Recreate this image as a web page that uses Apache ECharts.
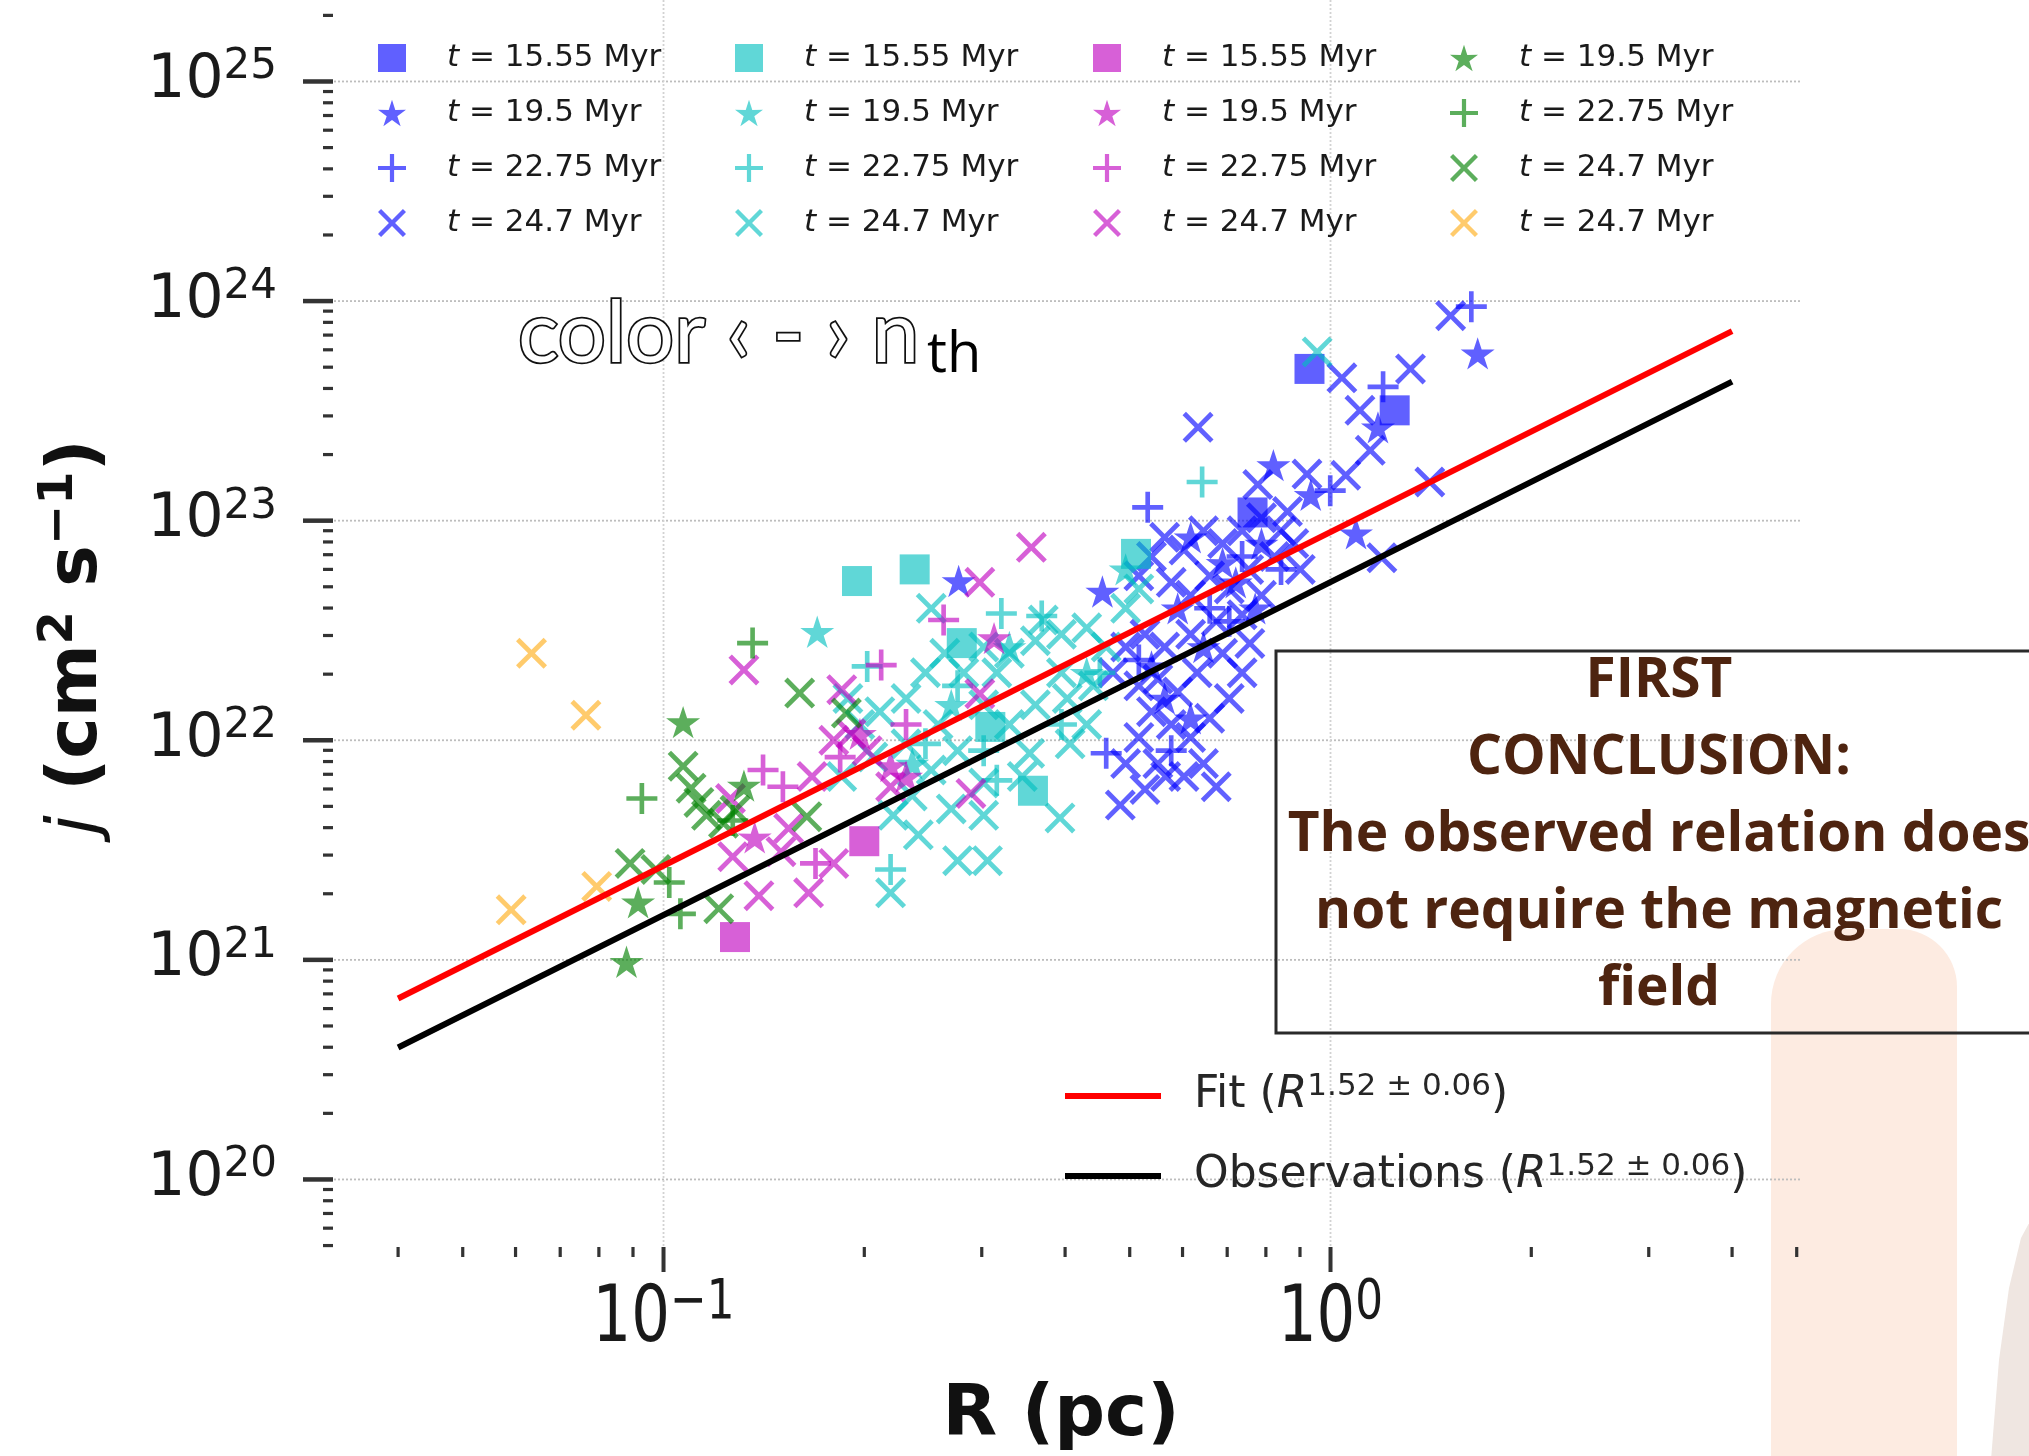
<!DOCTYPE html>
<html>
<head>
<meta charset="utf-8">
<script src="https://cdn.jsdelivr.net/npm/echarts@6/dist/echarts.min.js"></script>
<style>
  html, body { margin: 0; padding: 0; background: #ffffff; }
  #chart { width: 2029px; height: 1456px; }
</style>
</head>
<body>
<div id="chart"></div>
<script>
// ---- Axis ranges (R in pc, j in cm^2 s^-1), both logarithmic ----
const X_MIN = 0.03206, X_MAX = 5.057;
const Y_MIN = 4.977e19, Y_MAX = 2.35e25;

// ---- Tick positions and labels ----
const xMajorTicks = [0.1, 1];
const xTickExponents = ['\u22121', '0'];
const xMinorTicks = [0.04, 0.05, 0.06, 0.07, 0.08, 0.09,
                     0.2, 0.3, 0.4, 0.5, 0.6, 0.7, 0.8, 0.9,
                     2, 3, 4, 5];
const yMajorTicks = [1e20, 1e21, 1e22, 1e23, 1e24, 1e25];
const yTickExponents = ['20', '21', '22', '23', '24', '25'];
const yMinorTicks = [5e19, 6e19, 7e19, 8e19, 9e19,
  2e20, 3e20, 4e20, 5e20, 6e20, 7e20, 8e20, 9e20,
  2e21, 3e21, 4e21, 5e21, 6e21, 7e21, 8e21, 9e21,
  2e22, 3e22, 4e22, 5e22, 6e22, 7e22, 8e22, 9e22,
  2e23, 3e23, 4e23, 5e23, 6e23, 7e23, 8e23, 9e23,
  2e24, 3e24, 4e24, 5e24, 6e24, 7e24, 8e24, 9e24,
  2e25];

// ---- Snapshot times shown in the legend (Myr) ----
const times = ['15.55', '19.5', '22.75', '24.7'];

// ---- Clump data: [R (pc), j (cm^2 s^-1)] per density threshold colour and snapshot ----
const blueSquare = [[0.930, 4.91e23], [1.248, 3.18e23], [0.764, 1.09e23]];
const blueStar = [[1.662, 5.78e23], [0.821, 1.79e23], [1.092, 8.76e22], [1.178, 2.66e23], [0.934, 1.31e23],
  [0.455, 4.76e22], [0.277, 5.31e22], [0.617, 8.40e22], [0.689, 6.42e22], [0.590, 3.99e22],
  [0.645, 2.66e22], [0.564, 1.55e22], [0.617, 1.26e22], [0.539, 2.17e22], [0.788, 7.87e22],
  [0.721, 5.24e22], [0.771, 3.99e22]];
const bluePlus = [[1.626, 9.43e23], [1.199, 4.07e23], [0.532, 1.15e23], [0.461, 8.73e21], [0.999, 1.37e23],
  [0.737, 6.87e22], [0.659, 3.99e22], [0.577, 8.97e21], [0.516, 2.32e22], [0.705, 3.48e22], [0.843, 6.00e22]];
const blueCross = [[1.514, 8.58e23], [1.318, 4.91e23], [1.040, 4.47e23], [1.107, 3.18e23], [1.147, 2.09e23],
  [1.054, 1.61e23], [1.409, 1.50e23], [1.194, 6.78e22], [0.922, 1.63e23], [0.778, 1.46e23], [0.633, 2.66e23],
  [0.564, 8.40e22], [0.603, 7.35e22], [0.645, 8.99e22], [0.689, 7.87e22], [0.737, 8.99e22], [0.788, 1.03e23],
  [0.843, 8.99e22], [0.881, 7.87e22], [0.824, 6.87e22], [0.754, 6.00e22], [0.705, 4.89e22], [0.659, 5.61e22],
  [0.617, 4.57e22], [0.577, 5.24e22], [0.539, 6.87e22], [0.516, 5.61e22], [0.862, 1.10e23], [0.901, 6.00e22],
  [0.788, 4.57e22], [0.737, 3.73e22], [0.674, 3.48e22], [0.617, 3.04e22], [0.564, 2.66e22], [0.527, 3.04e22],
  [0.493, 2.66e22], [0.472, 2.03e22], [0.516, 1.77e22], [0.551, 1.90e22], [0.590, 1.66e22], [0.631, 2.03e22],
  [0.539, 1.35e22], [0.577, 1.18e22], [0.617, 1.03e22], [0.659, 1.26e22], [0.705, 1.55e22], [0.516, 1.03e22],
  [0.493, 7.83e21], [0.551, 7.83e21], [0.603, 6.84e21], [0.645, 7.83e21], [0.674, 6.14e21], [0.484, 5.07e21],
  [0.566, 6.84e21], [0.527, 5.97e21], [0.737, 2.03e22], [0.757, 2.76e22], [0.689, 2.49e22]];

const cyanSquare = [[0.195, 5.31e22], [0.238, 6.00e22], [0.280, 2.77e22], [0.358, 5.89e21], [0.511, 7.06e22], [0.309, 1.15e22]];
const cyanStar = [[0.170, 3.12e22], [0.270, 1.45e22], [0.330, 2.66e22], [0.431, 2.03e22], [0.493, 6.00e22], [0.236, 7.83e21]];
const cyanPlus = [[0.321, 3.78e22], [0.642, 1.50e23], [0.219, 2.58e21], [0.202, 2.17e22], [0.316, 6.57e21],
  [0.369, 3.68e22], [0.276, 1.77e22], [0.395, 1.18e22], [0.302, 8.97e21], [0.451, 2.03e22], [0.247, 9.63e21]];
const cyanCross = [[0.955, 5.87e23], [0.219, 2.02e21], [0.276, 2.83e21], [0.306, 2.83e21], [0.393, 4.43e21],
  [0.354, 8.73e21], [0.407, 9.63e21], [0.371, 3.53e22], [0.231, 1.55e22], [0.247, 2.03e22], [0.264, 2.49e22],
  [0.282, 2.03e22], [0.302, 2.66e22], [0.330, 2.49e22], [0.361, 2.84e22], [0.395, 3.04e22], [0.431, 3.25e22],
  [0.461, 2.66e22], [0.493, 3.99e22], [0.441, 1.77e22], [0.403, 1.55e22], [0.361, 1.45e22], [0.330, 1.18e22],
  [0.302, 1.45e22], [0.276, 8.97e21], [0.252, 7.32e21], [0.236, 5.58e21], [0.221, 4.55e21], [0.241, 3.71e21],
  [0.270, 4.87e21], [0.302, 6.39e21], [0.345, 6.84e21], [0.231, 9.63e21], [0.206, 8.38e21], [0.197, 1.18e22],
  [0.211, 1.35e22], [0.189, 1.55e22], [0.302, 4.55e21], [0.431, 1.18e22], [0.516, 4.89e22], [0.252, 3.99e22],
  [0.185, 6.84e21], [0.316, 2.03e22], [0.395, 2.03e22], [0.258, 1.18e22]];

const magentaSquare = [[0.200, 3.47e21], [0.128, 1.27e21]];
const magentaStar = [[0.313, 2.92e22], [0.219, 7.63e21], [0.137, 3.61e21], [0.197, 1.07e22], [0.231, 6.84e21]];
const magentaPlus = [[0.263, 3.53e22], [0.212, 2.20e22], [0.141, 7.32e21], [0.151, 6.14e21], [0.184, 8.38e21],
  [0.231, 1.18e22], [0.169, 2.75e21]];
const magentaCross = [[0.132, 2.09e22], [0.185, 1.70e22], [0.298, 5.24e22], [0.356, 7.56e22], [0.180, 1.00e22],
  [0.127, 2.95e21], [0.139, 1.96e21], [0.165, 2.02e21], [0.180, 2.75e21], [0.150, 3.11e21], [0.289, 5.73e21],
  [0.298, 1.63e22], [0.126, 5.43e21], [0.167, 6.84e21], [0.191, 1.07e22], [0.219, 6.14e21], [0.202, 8.97e21],
  [0.154, 3.97e21]];

const greenStar = [[0.107, 1.21e22], [0.132, 6.22e21], [0.0916, 1.83e21], [0.0880, 9.8e20]];
const greenPlus = [[0.136, 2.77e22], [0.0928, 5.43e21], [0.102, 2.25e21], [0.106, 1.62e21], [0.127, 4.31e21]];
const greenCross = [[0.107, 7.62e21], [0.110, 6.05e21], [0.113, 5.21e21], [0.116, 4.55e21], [0.123, 4.19e21],
  [0.160, 1.64e22], [0.188, 1.33e22], [0.0891, 2.75e21], [0.0974, 2.58e21], [0.121, 1.71e21], [0.164, 4.49e21],
  [0.128, 4.80e21]];
const orangeCross = [[0.0634, 2.49e22], [0.0765, 1.30e22], [0.0794, 2.16e21], [0.0591, 1.69e21]];

// ---- Power-law lines: end points [R, j] ----
const fitLine = [[0.04, 6.67e20], [4, 7.30e23]];
const obsLine = [[0.04, 3.99e20], [4, 4.30e23]];

// ---- Marker shapes ----
const SYM_SQUARE = 'rect';
const SYM_STAR = 'path://M50,0L61.17,34.63L97.55,34.55L68.07,55.87L79.39,90.45L50,69L20.61,90.45L31.93,55.87L2.45,34.55L38.83,34.63Z';
const SYM_PLUS = 'path://M42.5,0H57.5V42.5H100V57.5H57.5V100H42.5V57.5H0V42.5H42.5Z';
const SYM_CROSS = 'path://M0,11L11,0L50,39L89,0L100,11L61,50L100,89L89,100L50,61L11,100L0,89L39,50Z';

const COL_BLUE = 'rgba(0,0,255,0.78)';
const COL_CYAN = 'rgba(0,191,191,0.78)';
const COL_MAGENTA = 'rgba(191,0,191,0.78)';
const COL_GREEN = 'rgba(0,128,0,0.8)';
const COL_ORANGE = 'rgba(255,165,0,0.72)';

const FONT = 'DejaVu Sans';

function scatter(name, data, symbol, size, color) {
  return {
    type: 'scatter', name: name, data: data,
    symbol: symbol, symbolSize: size, symbolKeepAspect: symbol === SYM_STAR,
    itemStyle: { color: color },
    emphasis: { disabled: true },
    silent: true, z: 2
  };
}

// series name -> snapshot time for the legend text
const legendTime = {};
const scatterSeries = [];
function addGroup(prefix, color, groups) {
  groups.forEach(function (g) {
    const name = prefix + '_' + g[0];
    legendTime[name] = g[1];
    scatterSeries.push(scatter(name, g[2], g[3], g[4], color));
  });
}
addGroup('blue', COL_BLUE, [
  ['sq', times[0], blueSquare, SYM_SQUARE, 30],
  ['star', times[1], blueStar, SYM_STAR, 34],
  ['plus', times[2], bluePlus, SYM_PLUS, 31],
  ['x', times[3], blueCross, SYM_CROSS, 31]]);
addGroup('cyan', COL_CYAN, [
  ['sq', times[0], cyanSquare, SYM_SQUARE, 30],
  ['star', times[1], cyanStar, SYM_STAR, 34],
  ['plus', times[2], cyanPlus, SYM_PLUS, 31],
  ['x', times[3], cyanCross, SYM_CROSS, 31]]);
addGroup('magenta', COL_MAGENTA, [
  ['sq', times[0], magentaSquare, SYM_SQUARE, 30],
  ['star', times[1], magentaStar, SYM_STAR, 34],
  ['plus', times[2], magentaPlus, SYM_PLUS, 31],
  ['x', times[3], magentaCross, SYM_CROSS, 31]]);
addGroup('green', COL_GREEN, [
  ['star', times[1], greenStar, SYM_STAR, 34],
  ['plus', times[2], greenPlus, SYM_PLUS, 31],
  ['x', times[3], greenCross, SYM_CROSS, 31]]);
addGroup('orange', COL_ORANGE, [
  ['x', times[3], orangeCross, SYM_CROSS, 31]]);

// ---- Grid lines and ticks drawn through the axes' own scales ----
const gridItems = [];
yMajorTicks.forEach(function (v) { gridItems.push([X_MIN, v, 0]); });
xMajorTicks.forEach(function (v) { gridItems.push([v, Y_MIN, 1]); });

const tickItems = [];
yMajorTicks.forEach(function (v, i) { tickItems.push([X_MIN, v, 0, i]); });
yMinorTicks.forEach(function (v) { tickItems.push([X_MIN, v, 1, 0]); });
xMajorTicks.forEach(function (v, i) { tickItems.push([v, Y_MIN, 2, i]); });
xMinorTicks.forEach(function (v) { tickItems.push([v, Y_MIN, 3, 0]); });

function renderGrid(params, api) {
  const kind = api.value(2);
  let a, b;
  if (kind === 0) {
    a = api.coord([X_MIN, api.value(1)]);
    b = api.coord([X_MAX, api.value(1)]);
  } else {
    a = api.coord([api.value(0), Y_MIN]);
    b = api.coord([api.value(0), Y_MAX]);
  }
  return {
    type: 'line',
    shape: { x1: a[0], y1: a[1], x2: b[0], y2: b[1] },
    style: { stroke: kind === 0 ? '#bdbdbd' : '#d2d2d2', lineWidth: 1.8, lineDash: [2, 2] }
  };
}

function renderTicks(params, api) {
  const kind = api.value(2);
  const idx = api.value(3);
  const p = api.coord([api.value(0), api.value(1)]);
  const stroke = '#333333';
  if (kind === 0) {
    return {
      type: 'group', children: [
        { type: 'line', shape: { x1: p[0] - 31, y1: p[1], x2: p[0] - 1, y2: p[1] }, style: { stroke: stroke, lineWidth: 4.5 } },
        {
          type: 'text', x: p[0] - 57, y: p[1],
          style: {
            text: '{b|10}{s|' + yTickExponents[idx] + '}',
            align: 'right', verticalAlign: 'middle', fill: '#1a1a1a',
            rich: {
              b: { fontFamily: FONT, fontSize: 60, lineHeight: 70 },
              s: { fontFamily: FONT, fontSize: 42, lineHeight: 32, verticalAlign: 'top' }
            }
          }
        }
      ]
    };
  }
  if (kind === 1) {
    return { type: 'line', shape: { x1: p[0] - 11, y1: p[1], x2: p[0] - 1, y2: p[1] }, style: { stroke: stroke, lineWidth: 3.2 } };
  }
  if (kind === 2) {
    return {
      type: 'group', children: [
        { type: 'line', shape: { x1: p[0], y1: p[1] + 1, x2: p[0], y2: p[1] + 26 }, style: { stroke: stroke, lineWidth: 4 } },
        {
          type: 'text', x: p[0], y: p[1] + 75, scaleX: 0.78,
          style: {
            text: '{b|10}{s|' + xTickExponents[idx] + '}',
            align: 'center', verticalAlign: 'middle', fill: '#1a1a1a',
            rich: {
              b: { fontFamily: FONT, fontSize: 78, lineHeight: 92 },
              s: { fontFamily: FONT, fontSize: 56, lineHeight: 50, verticalAlign: 'top' }
            }
          }
        }
      ]
    };
  }
  return { type: 'line', shape: { x1: p[0], y1: p[1] + 1, x2: p[0], y2: p[1] + 11 }, style: { stroke: stroke, lineWidth: 3.2 } };
}

// ---- Legends: four columns of snapshots, plus the two power laws ----
const legendColumns = [
  ['blue_sq', 'blue_star', 'blue_plus', 'blue_x'],
  ['cyan_sq', 'cyan_star', 'cyan_plus', 'cyan_x'],
  ['magenta_sq', 'magenta_star', 'magenta_plus', 'magenta_x'],
  ['green_star', 'green_plus', 'green_x', 'orange_x']
];
const legendLeft = [378, 735, 1093, 1450];

const snapshotLegends = legendColumns.map(function (names, k) {
  return {
    data: names, orient: 'vertical', left: legendLeft[k], top: 41, padding: 0,
    itemWidth: 28, itemHeight: 28, itemGap: 21, selectedMode: false,
    formatter: function (n) { return '{g| }{i|t} = ' + legendTime[n] + ' Myr'; },
    textStyle: {
      fontFamily: FONT, fontSize: 31, lineHeight: 34, color: '#1a1a1a',
      rich: {
        g: { width: 36, lineHeight: 34 },
        i: { fontFamily: FONT, fontStyle: 'italic', fontSize: 31, lineHeight: 34 }
      }
    }
  };
});

const lawLabel = { Fit: 'Fit (', Observations: 'Observations (' };
const lawLegend = {
  data: [{ name: 'Fit', icon: 'rect' }, { name: 'Observations', icon: 'rect' }],
  orient: 'vertical', left: 1065, top: 1071, padding: 0,
  itemWidth: 96, itemHeight: 6, itemGap: 30, selectedMode: false,
  formatter: function (n) { return '{g| }{a|' + lawLabel[n] + '}{r|R}{s|1.52 \u00b1 0.06}{a|)}'; },
  textStyle: {
    fontFamily: FONT, fontSize: 44, lineHeight: 50, color: '#262626',
    rich: {
      g: { width: 28, lineHeight: 50 },
      a: { fontFamily: FONT, fontSize: 44, lineHeight: 50 },
      r: { fontFamily: FONT, fontStyle: 'italic', fontSize: 44, lineHeight: 50 },
      s: { fontFamily: FONT, fontSize: 31, lineHeight: 26, verticalAlign: 'top' }
    }
  }
};

const conclusion = 'FIRST\nCONCLUSION:\nThe observed relation does\nnot require the magnetic\nfield';

const option = {
  animation: false,
  backgroundColor: '#ffffff',
  textStyle: { fontFamily: FONT },
  grid: { left: 334, top: 0, width: 1466, height: 1246, containLabel: false },
  xAxis: {
    type: 'log', logBase: 10, min: X_MIN, max: X_MAX,
    axisLine: { show: false }, axisTick: { show: false }, axisLabel: { show: false },
    splitLine: { show: false }, minorTick: { show: false }
  },
  yAxis: {
    type: 'log', logBase: 10, min: Y_MIN, max: Y_MAX,
    axisLine: { show: false }, axisTick: { show: false }, axisLabel: { show: false },
    splitLine: { show: false }, minorTick: { show: false }
  },
  legend: snapshotLegends.concat([lawLegend]),
  series: [
    { type: 'custom', name: 'grid', data: gridItems, renderItem: renderGrid, silent: true, z: 1 }
  ].concat(scatterSeries).concat([
    {
      type: 'line', name: 'Fit', data: fitLine, symbol: 'none', silent: true, z: 4,
      lineStyle: { color: '#ff0000', width: 6 }, itemStyle: { color: '#ff0000' }
    },
    {
      type: 'line', name: 'Observations', data: obsLine, symbol: 'none', silent: true, z: 4,
      lineStyle: { color: '#000000', width: 6 }, itemStyle: { color: '#000000' }
    },
    { type: 'custom', name: 'ticks', data: tickItems, renderItem: renderTicks, silent: true, z: 5 }
  ]),
  graphic: [
    {
      type: 'rect', z: 0, silent: true,
      shape: { x: 1771, y: 929, width: 186, height: 560, r: [75, 58, 0, 0] },
      style: { fill: '#fdebe1' }
    },
    {
      type: 'polygon', z: 0, silent: true,
      shape: { points: [[2035, 1212], [2021, 1238], [2009, 1288], [1999, 1360], [1991, 1460], [2035, 1460]] },
      style: { fill: '#efe6e1' }
    },
    {
      type: 'rect', z: 10, silent: true,
      shape: { x: 1276, y: 651, width: 800, height: 382 },
      style: { fill: 'none', stroke: '#2a2a2a', lineWidth: 3 }
    },
    {
      type: 'text', z: 11, x: 1659, y: 835, silent: true,
      style: {
        text: conclusion, align: 'center', verticalAlign: 'middle',
        fontFamily: 'Open Sans', fontWeight: 'bold', fontSize: 55, lineHeight: 77, fill: '#4e2410'
      }
    },
    {
      type: 'text', z: 10, x: 518, y: 335, silent: true,
      style: {
        text: 'color \u2039 - \u203a n', align: 'left', verticalAlign: 'middle',
        fontFamily: 'Lato', fontSize: 85, fill: '#ffffff', stroke: '#111111', lineWidth: 3.5
      }
    },
    {
      type: 'text', z: 10, x: 927, y: 356, silent: true,
      style: { text: 'th', align: 'left', verticalAlign: 'middle', fontFamily: 'Open Sans', fontSize: 56, fill: '#000000' }
    },
    {
      type: 'text', z: 10, x: 78, y: 637, rotation: Math.PI / 2, silent: true,
      style: {
        text: '{j|j} {b|(cm}{s|2}{b| s}{s|\u22121}{b|)}', align: 'center', verticalAlign: 'middle', fill: '#111111',
        fontFamily: FONT, fontWeight: 'bold', fontSize: 70,
        rich: {
          j: { fontFamily: FONT, fontStyle: 'italic', fontSize: 70, lineHeight: 84 },
          b: { fontFamily: FONT, fontWeight: 'bold', fontSize: 70, lineHeight: 84 },
          s: { fontFamily: FONT, fontWeight: 'bold', fontSize: 48, lineHeight: 40, verticalAlign: 'top' }
        }
      }
    },
    {
      type: 'text', z: 10, x: 1061, y: 1417, silent: true,
      style: { text: 'R (pc)', align: 'center', verticalAlign: 'middle', fontFamily: FONT, fontWeight: 'bold', fontSize: 71, fill: '#111111' }
    }
  ]
};

const chart = echarts.init(document.getElementById('chart'), null, { renderer: 'canvas' });
chart.setOption(option);
</script>
</body>
</html>
